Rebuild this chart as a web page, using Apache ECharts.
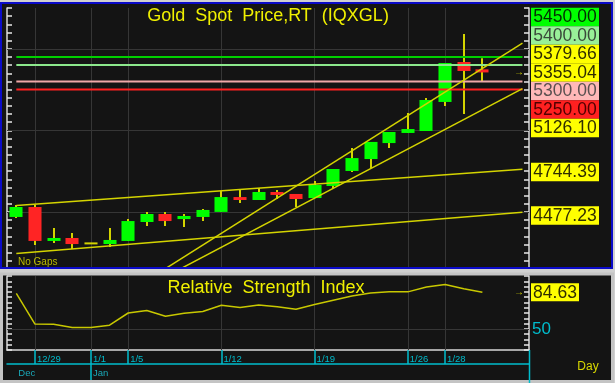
<!DOCTYPE html>
<html>
<head>
<meta charset="utf-8">
<script src="https://cdn.jsdelivr.net/npm/echarts@6/dist/echarts.min.js"></script>
<style>html,body{margin:0;padding:0;background:#141414;}#c{width:615px;height:383px;}</style>
</head>
<body>
<div id="c"></div>
<script>
// ---------------- data ----------------
const dates = ['12/26','12/29','12/30','12/31','1/1','1/2','1/5','1/6','1/7','1/8','1/9','1/12','1/13','1/14','1/15','1/16','1/19','1/20','1/21','1/22','1/23','1/26','1/27','1/28','1/29','1/30'];
const opens  = [4469,4530,4322,4340,4307,4303,4322,4438,4487,4456,4469,4500,4591,4573,4622,4610,4585,4659,4751,4824,4922,4984,4996,5174,5419,5374];
const closes = [4530,4322,4340,4303,4307,4328,4444,4487,4444,4475,4512,4591,4573,4622,4604,4579,4665,4763,4830,4929,4990,5008,5186,5413,5364,5355.04];
const lows   = [4463,4297,4309,4273,4306,4285,4322,4414,4414,4407,4444,4500,4555,4573,4579,4530,4585,4647,4745,4769,4892,4984,4996,5149,5100,5298];
const highs  = [4542,4542,4401,4371,4308,4401,4457,4500,4500,4487,4518,4628,4634,4647,4634,4610,4690,4763,4892,4929,4990,5106,5198,5413,5591,5442];
const rsiValues = [83.6,54.5,54.3,51.3,51.2,53.5,65.0,67.3,62.0,64.7,66.5,72.3,70.1,72.6,70.8,68.5,73.0,77.0,81.0,84.0,85.0,85.0,89.5,92.0,87.9,84.63];
const dateTickIdx = [1,4,6,11,16,21,23];
const monthLabels = ['Dec','Jan'];
const monthIdx = [0,4];
const priceGrid = [4500,5000,5500];
const rsiGrid = [50];
const levelValues = [5450,5400,5300,5250];
const trendLowerLong  = [[0,4244.6],[27.15,4497.2]];
const trendUpperLong  = [[0,4539.9],[27.15,4761.9]];
const trendUpperSteep = [[7,4080.1],[27.15,5534.9]];
const trendLowerSteep = [[7,4042.5],[27.15,5255.5]];
const levelStart = 0, levelEnd = 27.15;
const priceLabels = [5450.00,5400.00,5379.66,5355.04,5300.00,5250.00,5126.10,4744.39,4477.23];
const currentPrice = 5355.04;
const rsiLast = 84.63;

// ---------------- styles ----------------
const levelColors = ['#00d000','#8ce88c','#f0a8a8','#ff2020'];
const labelBg = ['#00ff00','#98f098','#ffff00','#ffff00','#ffb8b8','#ff2020','#ffff00','#ffff00','#ffff00'];
const labelFg = ['#003000','#3a4a3a','#302e00','#302e00','#5a5050','#500000','#302e00','#302e00','#302e00'];
const FONT = 'Liberation Sans';
const YEL = '#d4d400';
const CYAN = '#00bccc';
const GRIDC = '#363636';
const AXC = '#d8d8d8';

const chart = echarts.init(document.getElementById('c'), null, {renderer:'canvas'});

const candleData = dates.map((d,i)=>[i,opens[i],closes[i],lows[i],highs[i]]);

function trendSeries(data){
  return {type:'line', xAxisIndex:0, yAxisIndex:0, data:data, showSymbol:false, silent:true, z:3,
    lineStyle:{color:YEL, width:1.5}};
}
function yAx(grid, pos, min, max, step, label){
  return {type:'value', gridIndex:grid, min:min, max:max, interval:step, position:pos,
    axisLine:{show:true, onZero:false, lineStyle:{color:AXC, width:1.5}},
    axisTick:{show:true, inside:true, length:5, lineStyle:{color:'#e8e8e8', width:1.5}},
    axisLabel: label || {show:false},
    splitLine:{show:false}};
}

const xCommon = {type:'value', min:-0.5, max:27.5, splitLine:{show:false}};

const option = {
  animation:false,
  backgroundColor:'#141414',
  textStyle:{fontFamily:FONT},
  grid:[
    {left:7, top:8, width:522, height:261},
    {left:7, top:276, width:522, height:74}
  ],
  xAxis:[
    Object.assign({}, xCommon, {gridIndex:0, show:false}),
    Object.assign({}, xCommon, {gridIndex:1, position:'bottom',
      axisLine:{show:true, onZero:false, lineStyle:{color:AXC, width:1.5}},
      axisTick:{show:true, customValues:dateTickIdx, length:14, lineStyle:{color:CYAN, width:1.5}},
      axisLabel:{show:true, customValues:dateTickIdx, formatter:v=>dates[Math.round(v)], color:CYAN,
        fontSize:9.5, fontFamily:FONT, align:'left', margin:4, padding:[0,0,0,2]}}),
    Object.assign({}, xCommon, {gridIndex:1, position:'bottom', offset:14,
      axisLine:{show:true, onZero:false, lineStyle:{color:CYAN, width:1.5}},
      axisTick:{show:true, customValues:[monthIdx[1]], length:19, lineStyle:{color:CYAN, width:1.5}},
      axisLabel:{show:true, customValues:monthIdx, formatter:v=>monthLabels[monthIdx.indexOf(Math.round(v))], color:'#1aa8b8',
        fontSize:9.5, fontFamily:FONT, align:'left', margin:4, padding:[0,0,0,2]}})
  ],
  yAxis:[
    yAx(0,'left',4150,5750,50),
    yAx(0,'right',4150,5750,50),
    yAx(1,'left',30,100,5),
    yAx(1,'right',30,100,5,{show:true, formatter:v=>(v===50?'50':''), color:CYAN, fontSize:17, fontFamily:FONT, margin:3})
  ],
  series:[
    {
      type:'custom', name:'candles', xAxisIndex:0, yAxisIndex:0, data:candleData, z:2,
      encode:{x:0, y:[1,2,3,4]},
      renderItem:function(params, api){
        const i=api.value(0), o=api.value(1), c=api.value(2), l=api.value(3), h=api.value(4);
        const pO=api.coord([i,o]), pC=api.coord([i,c]), pL=api.coord([i,l]), pH=api.coord([i,h]);
        const w=api.size([1,0])[0]*0.7;
        const x=Math.round(pO[0]);
        let top=Math.min(pO[1],pC[1]), bot=Math.max(pO[1],pC[1]);
        if(bot-top<2){const m=(top+bot)/2; top=m-1; bot=m+1;}
        const color = c>o ? '#00ff00' : (c<o ? '#ff2424' : YEL);
        return {type:'group', children:[
          {type:'line', shape:{x1:x, y1:pH[1], x2:x, y2:pL[1]}, style:{stroke:YEL, lineWidth:2}},
          {type:'rect', shape:{x:x-w/2, y:top, width:w, height:bot-top}, style:{fill:color}}
        ]};
      },
      markLine:{silent:true, z:1, symbol:['none','none'], label:{show:false},
        lineStyle:{color:GRIDC, type:'solid', width:1},
        data:[...dateTickIdx.map(i=>({xAxis:i})), ...priceGrid.map(v=>({yAxis:v}))]}
    },
    ...levelValues.map((v,k)=>({type:'line', xAxisIndex:0, yAxisIndex:0, data:[[levelStart,v],[levelEnd,v]],
      showSymbol:false, silent:true, z:3, lineStyle:{color:levelColors[k], width:2}})),
    trendSeries(trendLowerLong),
    trendSeries(trendUpperLong),
    trendSeries(trendUpperSteep),
    trendSeries(trendLowerSteep),
    {
      type:'line', name:'RSI', xAxisIndex:1, yAxisIndex:2, data:rsiValues.map((v,i)=>[i,v]),
      showSymbol:false, silent:true, z:3, lineStyle:{color:'#c8c800', width:1.5},
      markLine:{silent:true, z:1, symbol:['none','none'], label:{show:false},
        lineStyle:{color:GRIDC, type:'solid', width:1},
        data:[...dateTickIdx.map(i=>({xAxis:i})), ...rsiGrid.map(v=>({yAxis:v}))]}
    }
  ]
};
chart.setOption(option);

// --------------- overlays (computed from the axes) ---------------
const yMain = v => chart.convertToPixel({yAxisIndex:0}, v);
const yRsi = v => chart.convertToPixel({yAxisIndex:2}, v);
const H = 18.5;
const anchor = priceLabels.indexOf(currentPrice);
const pos = priceLabels.map(v=>yMain(v));
for(let i=anchor-1;i>=0;i--) pos[i]=Math.min(pos[i], pos[i+1]-H);
for(let i=anchor+1;i<pos.length;i++) pos[i]=Math.max(pos[i], pos[i-1]+H);

const gr = [];
function txt(t,x,y,size,fill,align){
  return {type:'text', z:120, silent:true, style:{text:t, x:x, y:y, fill:fill, fontSize:size, fontFamily:FONT,
    align:align||'center', textAlign:align||'center', verticalAlign:'middle', textVerticalAlign:'middle'}};
}
// frame strips
gr.push({type:'rect', z:100, silent:true, shape:{x:0,y:0,width:615,height:2}, style:{fill:'#d0d0d0'}});
gr.push({type:'rect', z:100, silent:true, shape:{x:613,y:0,width:2,height:383}, style:{fill:'#d0d0d0'}});
gr.push({type:'rect', z:100, silent:true, shape:{x:0,y:269,width:615,height:5}, style:{fill:'#d0d0d0'}});
gr.push({type:'rect', z:101, silent:true, shape:{x:1,y:3,width:611,height:265}, style:{fill:null, stroke:'#0a0ac8', lineWidth:2}});
gr.push({type:'rect', z:100, silent:true, shape:{x:1.5,y:274,width:611,height:107.5}, style:{fill:null, stroke:'#c4c4c4', lineWidth:3}});
// cyan right boundary of date axis
gr.push({type:'line', z:102, silent:true, shape:{x1:529.5,y1:350,x2:529.5,y2:383}, style:{stroke:CYAN, lineWidth:1.5}});
// price labels
priceLabels.forEach((v,i)=>{
  gr.push({type:'rect', z:110, silent:true, shape:{x:531, y:pos[i]-H/2, width:68, height:H}, style:{fill:labelBg[i]}});
  gr.push(txt(v.toFixed(2), 565, pos[i]+0.5, 17.5, labelFg[i]));
});
// rsi label
const ry = yRsi(rsiLast);
gr.push({type:'rect', z:110, silent:true, shape:{x:531, y:ry-9, width:48, height:18}, style:{fill:'#ffff00'}});
gr.push(txt(rsiLast.toFixed(2), 555, ry+0.5, 17.5, '#302e00'));
// arrows
gr.push(txt('\u2192', 519, yMain(currentPrice), 10, YEL));
gr.push(txt('\u2192', 519, ry, 10, YEL));
// titles and notes
gr.push(txt('Gold  Spot  Price,RT  (IQXGL)', 268, 16, 18, '#f0f000'));
gr.push(txt('Relative  Strength  Index', 266, 288, 18, '#f0f000'));
gr.push(txt('No Gaps', 18, 262, 10, '#b8b800', 'left'));
gr.push(txt('Day', 588, 367, 12, '#d8d800'));

chart.setOption({graphic:gr});
</script>
</body>
</html>
